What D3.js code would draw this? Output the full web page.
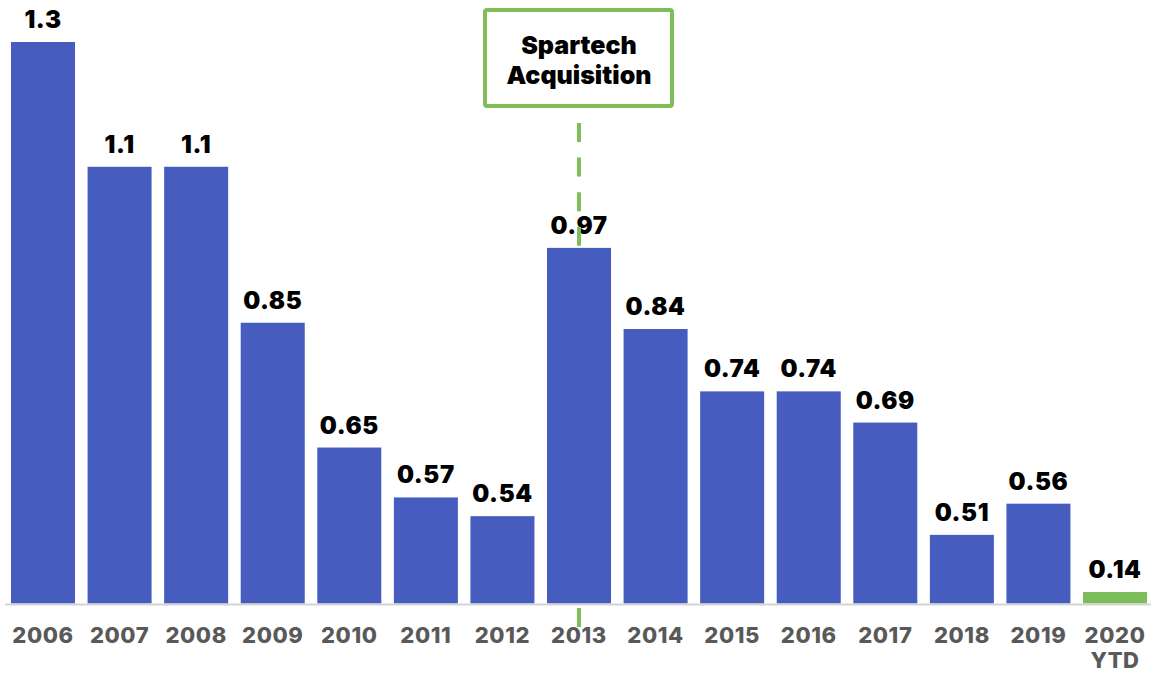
<!DOCTYPE html>
<html><head><meta charset="utf-8">
<script src="https://cdn.jsdelivr.net/npm/d3@7"></script>
<style>body{margin:0;background:#fff}svg{display:block}</style>
</head><body>
<svg id="chart" width="1151" height="673"></svg>
<script>
const years = ["2006","2007","2008","2009","2010","2011","2012","2013","2014","2015","2016","2017","2018","2019","2020"];
const yearSubLabels = ["","","","","","","","","","","","","","","YTD"];
const values = [1.3,1.1,1.1,0.85,0.65,0.57,0.54,0.97,0.84,0.74,0.74,0.69,0.51,0.56,0.14];
const valueLabels = ["1.3","1.1","1.1","0.85","0.65","0.57","0.54","0.97","0.84","0.74","0.74","0.69","0.51","0.56","0.14"];
const highlightYear = "2020";
const annotationYear = "2013";
const annotationLines = ["Spartech","Acquisition"];
const yDomain = [0.4, 1.3];

const svg = d3.select("#chart");
const font = "Inter, 'Open Sans', sans-serif";
const baseY = 603.5, topY = 42;
const x = d3.scaleBand().domain(years).range([4.72, 1153.3]).paddingInner(0.164).paddingOuter(0.082);
const y = d3.scaleLinear().domain(yDomain).range([baseY, topY]).clamp(true);
const minH = 11.5;
const barTop = v => Math.min(y(v), baseY - minH);

const ax = x(annotationYear) + x.bandwidth()/2;
const dash = "19,15.6";

// bars
svg.selectAll("rect.bar").data(years).join("rect").attr("class","bar")
  .attr("x", d => x(d)).attr("width", x.bandwidth())
  .attr("y", (d,i) => barTop(values[i])).attr("height", (d,i) => baseY - barTop(values[i]))
  .attr("fill", d => d === highlightYear ? "#7DBE5A" : "#465DBF");

// axis line
svg.append("line").attr("x1", 5).attr("x2", 1151).attr("y1", 604.5).attr("y2", 604.5)
  .attr("stroke", "#d4d4d4").attr("stroke-width", 2);

// dash segment below axis
svg.append("line").attr("x1", ax).attr("x2", ax).attr("y1", 608).attr("y2", 627)
  .attr("stroke", "#7DBE5A").attr("stroke-width", 4);

// year labels
const yearAttrs = sel => sel.attr("text-anchor","middle").attr("font-family", font)
  .attr("font-weight", 800).attr("font-size", 22).attr("letter-spacing", 0.6).attr("fill", "#595959");
svg.selectAll("text.year").data(years).join("text").attr("class","year")
  .attr("x", d => x(d) + x.bandwidth()/2).attr("y", 643).call(yearAttrs).text(d => d);
svg.selectAll("text.sub").data(years.filter((d,i)=>yearSubLabels[i])).join("text").attr("class","sub")
  .attr("x", d => x(d) + x.bandwidth()/2).attr("y", 668).call(yearAttrs)
  .text(d => yearSubLabels[years.indexOf(d)]);

// value labels
svg.selectAll("text.val").data(years).join("text").attr("class","val")
  .attr("x", d => x(d) + x.bandwidth()/2).attr("y", (d,i) => barTop(values[i]) - 14)
  .attr("text-anchor","middle").attr("font-family", font).attr("font-weight", 900)
  .attr("font-size", 24).attr("letter-spacing", 0.6).attr("fill", "#000").text((d,i) => valueLabels[i]);

// dashed annotation line above the bar (drawn over value label)
svg.append("line").attr("x1", ax).attr("x2", ax).attr("y1", 123).attr("y2", barTop(values[years.indexOf(annotationYear)]))
  .attr("stroke", "#7DBE5A").attr("stroke-width", 4).attr("stroke-dasharray", dash);

// annotation box
svg.append("rect").attr("x", 485).attr("y", 10).attr("width", 187).attr("height", 96)
  .attr("rx", 2).attr("fill", "#fff").attr("stroke", "#7DBE5A").attr("stroke-width", 4);
svg.selectAll("text.ann").data(annotationLines).join("text").attr("class","ann")
  .attr("x", 579).attr("y", (d,i) => 54 + i*30).attr("text-anchor","middle")
  .attr("font-family", font).attr("font-weight", 900).attr("font-size", 25)
  .attr("fill", "#000").text(d => d);
</script>
</body></html>
